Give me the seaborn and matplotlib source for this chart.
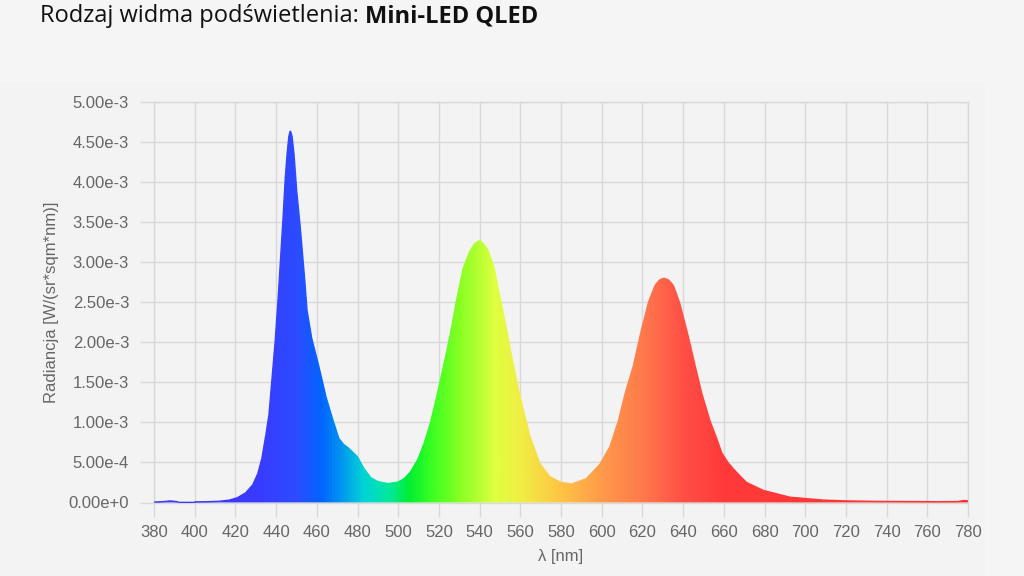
import numpy as np
import matplotlib
matplotlib.use("Agg")
import matplotlib.pyplot as plt
import seaborn as sns
from matplotlib.colors import LinearSegmentedColormap
from matplotlib.collections import LineCollection
from matplotlib.patches import Rectangle

# spectrum (nm, radiance in 1e-3 W/(sr*sqm*nm))
wavelength = [380, 385, 388, 392, 400, 406, 412, 417, 421, 425, 428.5, 431, 433, 435,
              436.5, 438, 439.5, 441, 442.2, 443.4, 444.5, 445.4, 446.3, 447, 447.8,
              448.8, 450.1, 452, 454, 455.2, 457.5, 461, 464.5, 467.3, 470.8, 473, 476,
              480, 483, 486.5, 490, 495, 500, 503, 506, 509.5, 512.5, 515.6, 518.1,
              520.5, 523.8, 526.3, 528.7, 532, 535.3, 537.5, 539.9, 542, 544.3, 547.1,
              550, 553, 555.3, 557.5, 560.7, 564.8, 569.7, 574.6, 580, 585.3, 592.6,
              599.2, 604.1, 608.2, 611.5, 615.6, 619.2, 623, 626.2, 628.5, 630.6, 632.8,
              635.2, 638.2, 642.1, 645.9, 649.2, 653.2, 656.5, 659, 662, 664.7, 668, 671.2,
              679.5, 692.5, 709, 720, 735, 750, 765, 775, 778, 780]
radiance = [0.005, 0.012, 0.02, 0.008, 0.008, 0.01, 0.015, 0.03, 0.06, 0.12, 0.22, 0.36, 0.55, 0.85,
            1.10, 1.55, 2.00, 2.55, 3.05, 3.55, 4.05, 4.35, 4.58, 4.64, 4.58,
            4.35, 3.90, 3.40, 2.80, 2.40, 2.05, 1.70, 1.32, 1.08, 0.80, 0.73, 0.67,
            0.57, 0.43, 0.31, 0.26, 0.235, 0.255, 0.30, 0.38, 0.53, 0.72, 0.97, 1.23,
            1.50, 1.88, 2.19, 2.53, 2.93, 3.14, 3.23, 3.27, 3.23, 3.14, 2.93,
            2.56, 2.19, 1.88, 1.60, 1.23, 0.82, 0.48, 0.32, 0.25, 0.23, 0.30,
            0.48, 0.70, 1.02, 1.36, 1.71, 2.12, 2.50, 2.71, 2.78, 2.80, 2.78,
            2.71, 2.50, 2.12, 1.71, 1.36, 1.02, 0.80, 0.62, 0.50, 0.42, 0.33, 0.25,
            0.15, 0.066, 0.03, 0.02, 0.014, 0.012, 0.01, 0.012, 0.025, 0.02]

x_ticks = list(range(380, 781, 20))
y_tick_labels = ["0.00e+0", "5.00e-4", "1.00e-3", "1.50e-3", "2.00e-3", "2.50e-3",
                 "3.00e-3", "3.50e-3", "4.00e-3", "4.50e-3", "5.00e-3"]

# colour along the spectrum
spec_stops = [(380, "#4433ff"), (430, "#3a3aff"), (450, "#2c4cff"), (462, "#0066ff"),
              (472, "#0099ee"), (483, "#00d5d5"), (495, "#00e8a0"), (505, "#00ee33"),
              (515, "#33ff22"), (530, "#88ff22"), (548, "#e0ff40"), (560, "#f0ee44"),
              (580, "#ffc444"), (600, "#ff9a4a"), (620, "#ff7a4c"), (640, "#ff5046"),
              (660, "#ff3a3a"), (780, "#ff3030")]
cmap = LinearSegmentedColormap.from_list(
    "spec", [((w - 380) / 400, c) for w, c in spec_stops])

sns.set_theme(style="whitegrid")
plt.rcParams['font.family'] = ['Liberation Sans', 'DejaVu Sans']

fig = plt.figure(figsize=(10.24, 5.76), dpi=100, facecolor="#f5f5f5")
fig.patches.append(Rectangle((0, 0), 985 / 1024, (576 - 82) / 576, transform=fig.transFigure,
                             facecolor="#f3f3f3", edgecolor="none", zorder=-5))
ax = fig.add_axes([154 / 1024, 1 - 502.5 / 576, 814 / 1024, 400.5 / 576])
ax.set_facecolor("#f3f3f3")

wl = np.array(wavelength)
rad = np.array(radiance) * 1e-3

poly = ax.fill_between(wl, rad, 0, facecolor="none", edgecolor="none")
grad = ax.imshow(np.linspace(0, 1, 800)[None, :], cmap=cmap, aspect="auto",
                 extent=[380, 780, 0, 5e-3], origin="lower", zorder=2, interpolation="bilinear")
grad.set_clip_path(poly.get_paths()[0], transform=ax.transData)

pts = np.column_stack([wl, rad])
segs = np.stack([pts[:-1], pts[1:]], axis=1)
mid = ((wl[:-1] + wl[1:]) / 2 - 380) / 400
ax.add_collection(LineCollection(segs, colors=cmap(mid), linewidths=1, zorder=3))

ax.set_xlim(380, 780)
ax.set_ylim(0, 5e-3)
ax.set_xticks(x_ticks)
ax.set_yticks([float(s) for s in y_tick_labels])
ax.set_yticklabels(y_tick_labels)
ax.set_axisbelow(True)
ax.grid(True, color="#d9d9d9", linewidth=1)
for s in ax.spines.values():
    s.set_color("#d9d9d9")
    s.set_linewidth(1)
ax.tick_params(bottom=True, left=True, length=10, width=1, color="#d9d9d9",
               labelcolor="#666666", labelsize=12)
ax.tick_params(axis="x", pad=6)
ax.tick_params(axis="y", pad=8)

ax.set_xlabel("λ [nm]", color="#666666", fontsize=12, labelpad=7)
ax.set_ylabel("Radiancja [W/(sr*sqm*nm)]", color="#666666", fontsize=12, labelpad=7)

# title: regular part + bold part
t1 = fig.text(40 / 1024, 1 - 16 / 576, "Rodzaj widma podświetlenia: ", fontsize=17,
              color="#111111", va="center", family=["Open Sans", "DejaVu Sans"])
fig.canvas.draw()
bb = t1.get_window_extent()
fig.text(bb.x1 / 1024, 1 - 16 / 576, "Mini-LED QLED", fontsize=17, fontweight="bold",
         color="#111111", va="center", family=["Open Sans", "DejaVu Sans"])

fig.savefig("out.png", dpi=100, facecolor=fig.get_facecolor())
